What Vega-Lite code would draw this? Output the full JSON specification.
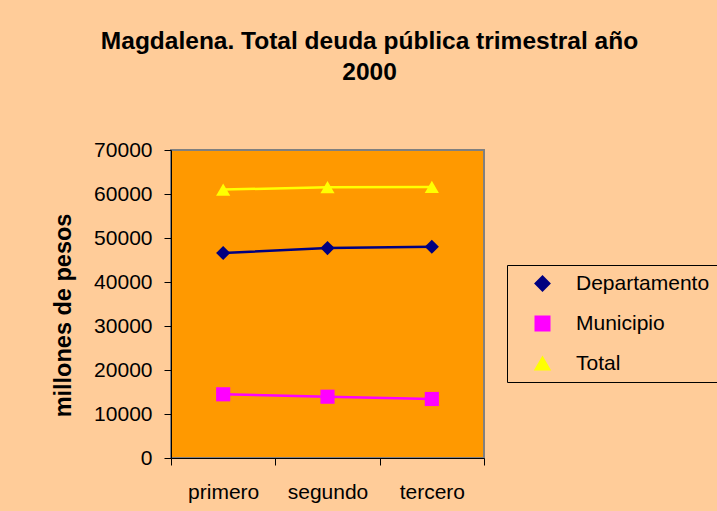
{
  "$schema": "https://vega.github.io/schema/vega-lite/v6.json",
  "width": 313,
  "height": 308,
  "autosize": "none",
  "padding": {"left": 171, "top": 150, "right": 233, "bottom": 53},
  "background": "#FFCC99",
  "title": {
    "text": ["Magdalena. Total deuda pública trimestral año", "2000"],
    "font": "Liberation Sans",
    "fontSize": 24.5,
    "fontWeight": "bold",
    "color": "#000000",
    "anchor": "middle",
    "frame": "group",
    "dx": 42,
    "offset": 54,
    "lineHeight": 31
  },
  "config": {
    "view": {"fill": "#FF9900", "stroke": "#808080", "strokeWidth": 2},
    "font": "Liberation Sans"
  },
  "data": {
    "values": [
      {"trimestre": "primero", "serie": "Departamento", "valor": 46600},
      {"trimestre": "segundo", "serie": "Departamento", "valor": 47700},
      {"trimestre": "tercero", "serie": "Departamento", "valor": 48000},
      {"trimestre": "primero", "serie": "Municipio", "valor": 14480},
      {"trimestre": "segundo", "serie": "Municipio", "valor": 13930},
      {"trimestre": "tercero", "serie": "Municipio", "valor": 13410},
      {"trimestre": "primero", "serie": "Total", "valor": 61000},
      {"trimestre": "segundo", "serie": "Total", "valor": 61550},
      {"trimestre": "tercero", "serie": "Total", "valor": 61600}
    ]
  },
  "encoding": {
    "x": {
      "field": "trimestre",
      "type": "nominal",
      "sort": ["primero", "segundo", "tercero"],
      "scale": {"type": "band", "paddingInner": 0, "paddingOuter": 0},
      "axis": {
        "title": null,
        "labelAngle": 0,
        "labelFontSize": 21,
        "labelColor": "#000000",
        "tickBand": "extent",
        "tickSize": 7,
        "tickColor": "#000000",
        "domainColor": "#000000",
        "labelPadding": 16
      }
    },
    "y": {
      "field": "valor",
      "type": "quantitative",
      "scale": {"domain": [0, 70000], "nice": false},
      "axis": {
        "title": "millones de pesos",
        "titleFontSize": 23.5,
        "titleFontWeight": "bold",
        "titleColor": "#000000",
        "titlePadding": 18,
        "titleY": 165,
        "values": [0, 10000, 20000, 30000, 40000, 50000, 60000, 70000],
        "format": "d",
        "grid": false,
        "labelFontSize": 21,
        "labelColor": "#000000",
        "tickSize": 7,
        "tickColor": "#000000",
        "domainColor": "#000000",
        "labelPadding": 12
      }
    },
    "color": {
      "field": "serie",
      "type": "nominal",
      "scale": {
        "domain": ["Departamento", "Municipio", "Total"],
        "range": ["#000080", "#FF00FF", "#FFFF00"]
      },
      "legend": {
        "title": null,
        "orient": "none",
        "legendX": 336,
        "legendY": 115,
        "fillColor": "#FFCC99",
        "strokeColor": "#000000",
        "padding": 8,
        "labelFontSize": 21,
        "labelColor": "#000000",
        "symbolSize": 196,
        "symbolOffset": 17,
        "labelOffset": 23,
        "rowPadding": 17,
        "symbolStrokeWidth": 2
      }
    }
  },
  "layer": [
    {
      "mark": {"type": "line", "strokeWidth": 2.5}
    },
    {
      "mark": {"type": "point", "filled": true, "opacity": 1, "size": 200},
      "encoding": {
        "shape": {
          "field": "serie",
          "type": "nominal",
          "scale": {
            "domain": ["Departamento", "Municipio", "Total"],
            "range": ["diamond", "square", "triangle-up"]
          },
          "legend": null
        }
      }
    }
  ]
}
